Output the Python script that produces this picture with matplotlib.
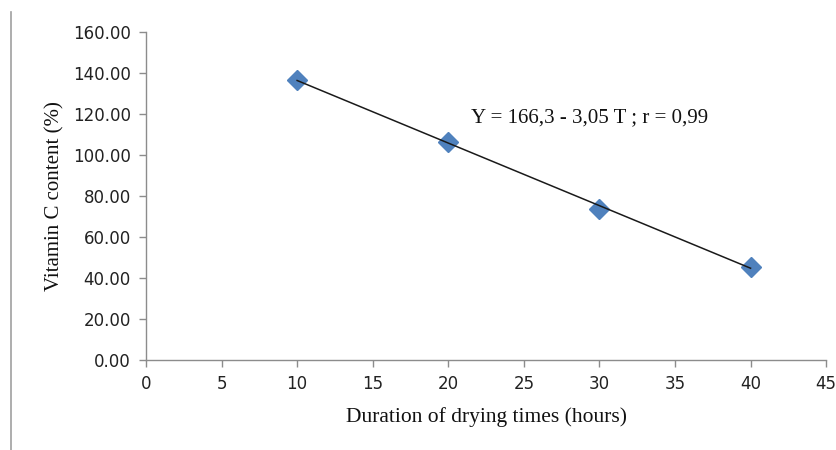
import numpy as np
import matplotlib
matplotlib.use('Agg')
import matplotlib.pyplot as plt
from matplotlib.lines import Line2D

# drying time (hours) and vitamin C content (%)
drying_hours = [10, 20, 30, 40]
vitamin_c = [136.5, 106.3, 73.8, 45.6]
equation_text = "Y = 166,3 - 3,05 T ; r = 0,99"

fig = plt.figure(figsize=(8.37, 4.5), dpi=100)
ax = fig.add_axes([0.1744, 0.2, 0.8126, 0.729])

# trend line from a linear fit over the measured points
slope, intercept = np.polyfit(drying_hours, vitamin_c, 1)
x_fit = np.array([min(drying_hours), max(drying_hours)])
ax.plot(x_fit, intercept + slope * x_fit, color='#1a1a1a', lw=1.1, zorder=3)
ax.plot(drying_hours, vitamin_c, linestyle='none', marker='D', markersize=10,
        color='#4f81bd', zorder=2)

ax.set_xlim(0, 45)
ax.set_ylim(0, 160)
ax.set_xticks(range(0, 46, 5))
ax.set_yticks(range(0, 161, 20))
ax.set_yticklabels([f"{v:.2f}" for v in range(0, 161, 20)])

for s in ['top', 'right']:
    ax.spines[s].set_visible(False)
for s in ['left', 'bottom']:
    ax.spines[s].set_color('#8c8c8c')
    ax.spines[s].set_linewidth(1.0)
ax.tick_params(axis='both', direction='out', length=5, width=1.0, color='#8c8c8c',
               labelsize=12, labelcolor='#222222', pad=6)
for lab in ax.get_xticklabels() + ax.get_yticklabels():
    lab.set_family('DejaVu Sans')

ax.set_xlabel("Duration of drying times (hours)", family='Liberation Serif',
              fontsize=15.5, color='#111111', labelpad=10)
ax.set_ylabel("Vitamin C content (%)", family='Liberation Serif',
              fontsize=15, color='#111111', labelpad=6)

ax.text(21.5, 118, equation_text, family='Liberation Serif', fontsize=15,
        color='#111111', va='center', ha='left')

# page border line at the far left
fig.add_artist(Line2D([11 / 837, 11 / 837], [0, 1 - 12 / 450],
                      transform=fig.transFigure, color='#a0a0a0', lw=1.2))

fig.savefig('out.png', dpi=100)
